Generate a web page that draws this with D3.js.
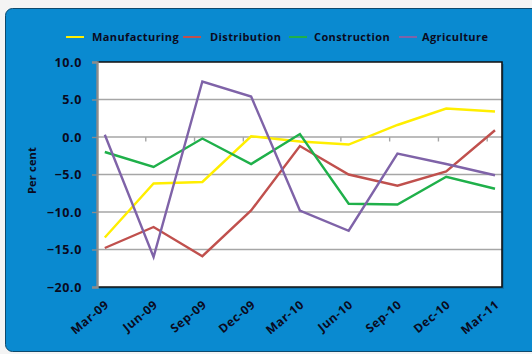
<!DOCTYPE html>
<html>
<head>
<meta charset="utf-8">
<script src="https://cdn.jsdelivr.net/npm/d3@7"></script>
<style>
  html, body { margin: 0; padding: 0; background: #f4f4f4; }
  svg { display: block; }
  text { font-family: "Open Sans", Lato, sans-serif; font-weight: bold; fill: #0a0a1e; }
</style>
</head>
<body>
<svg id="chart" width="532" height="354"></svg>
<script>
// Quarterly change, per cent
const quarters = ["Mar-09", "Jun-09", "Sep-09", "Dec-09", "Mar-10", "Jun-10", "Sep-10", "Dec-10", "Mar-11"];
const manufacturing = [-13.4, -6.2, -6.0, 0.1, -0.6, -1.0, 1.6, 3.8, 3.4];
const distribution  = [-14.8, -12.0, -15.9, -9.8, -1.2, -5.0, -6.5, -4.6, 0.9];
const construction  = [-2.0, -4.0, -0.2, -3.6, 0.4, -8.9, -9.0, -5.3, -6.9];
const agriculture   = [0.3, -16.0, 7.4, 5.4, -9.8, -12.5, -2.2, -3.6, -5.1];
const yTicks = [10, 5, 0, -5, -10, -15, -20];

const seriesNames = ["Manufacturing", "Distribution", "Construction", "Agriculture"];
const seriesValues = [manufacturing, distribution, construction, agriculture];
const seriesColors = ["#ffee00", "#c0504d", "#1fb04a", "#7f63a8"];

const svg = d3.select("#chart");

// Blue panel
svg.append("rect")
  .attr("x", 5.5).attr("y", 8.5)
  .attr("width", 540).attr("height", 343)
  .attr("rx", 7).attr("ry", 7)
  .attr("fill", "#0a8ad0")
  .attr("stroke", "#0d4a6e").attr("stroke-width", 1);

const plot = { left: 97, top: 62, right: 502, bottom: 287 };

const x = d3.scalePoint().domain(quarters).range([104.8, 495]);
const y = d3.scaleLinear().domain([-20, 10]).range([plot.bottom, plot.top]);

// Plot background with a faint drop shadow
svg.append("rect")
  .attr("x", plot.left + 2).attr("y", plot.top + 2)
  .attr("width", plot.right - plot.left).attr("height", plot.bottom - plot.top)
  .attr("fill", "#0a5f92").attr("opacity", 0.5);
svg.append("rect")
  .attr("x", plot.left).attr("y", plot.top)
  .attr("width", plot.right - plot.left).attr("height", plot.bottom - plot.top)
  .attr("fill", "#ffffff");

// Horizontal gridlines
svg.append("g")
  .selectAll("line")
  .data(yTicks.filter(v => v !== 10 && v !== -20))
  .join("line")
  .attr("x1", plot.left).attr("x2", plot.right)
  .attr("y1", d => y(d)).attr("y2", d => y(d))
  .attr("stroke", "#a6a6a6").attr("stroke-width", 1.6);

// Category tick marks hanging from the zero line
const step = x.step();
svg.append("g")
  .selectAll("line")
  .data(d3.range(1, quarters.length))
  .join("line")
  .attr("x1", i => plot.left + step * i).attr("x2", i => plot.left + step * i)
  .attr("y1", y(0)).attr("y2", y(0) + 4.5)
  .attr("stroke", "#a6a6a6").attr("stroke-width", 1.4);

// Plot frame: dark top/right/bottom
svg.append("path")
  .attr("d", `M${plot.left},${plot.top}H${plot.right}V${plot.bottom}H${plot.left}`)
  .attr("fill", "none").attr("stroke", "#111").attr("stroke-width", 1.6);

// Y axis
const yAxis = d3.axisLeft(y)
  .tickValues(yTicks)
  .tickSize(5)
  .tickPadding(10)
  .tickFormat(d3.format(".1f"));
const gy = svg.append("g")
  .attr("transform", `translate(${plot.left},0)`)
  .call(yAxis);
gy.select(".domain").attr("stroke", "#8c8c8c").attr("stroke-width", 2.4);
gy.selectAll(".tick line").attr("stroke", "#8c8c8c").attr("stroke-width", 1.4);
gy.selectAll(".tick text")
  .attr("font-size", 12.5)
  .attr("font-family", "\"Open Sans\", sans-serif")
  .attr("font-weight", "bold")
  .attr("letter-spacing", 0.6)
  .attr("fill", "#0a0a1e");

// Y axis title
svg.append("text")
  .attr("transform", `translate(36,${(plot.top + plot.bottom) / 2 - 4}) rotate(-90)`)
  .attr("text-anchor", "middle")
  .attr("font-size", 11)
  .attr("letter-spacing", 0.2)
  .text("Per cent");

// X axis labels, rotated
svg.append("g")
  .selectAll("text")
  .data(quarters)
  .join("text")
  .attr("transform", d => `translate(${x(d) + 5},${plot.bottom + 19}) rotate(-40)`)
  .attr("text-anchor", "end")
  .attr("font-size", 12)
  .attr("letter-spacing", 0.6)
  .text(d => d);

// Series lines
const line = d3.line()
  .x((d, i) => x(quarters[i]))
  .y(d => y(d));

svg.append("g")
  .selectAll("path")
  .data(seriesValues)
  .join("path")
  .attr("d", d => line(d))
  .attr("fill", "none")
  .attr("stroke", (d, i) => seriesColors[i])
  .attr("stroke-width", 2.4)
  .attr("stroke-linejoin", "miter");

// Legend
const legendItems = [
  { swatch: 66, text: 92 },
  { swatch: 183, text: 210 },
  { swatch: 289, text: 314 },
  { swatch: 399, text: 422 }
];
const legend = svg.append("g");
seriesNames.forEach((name, i) => {
  const pos = legendItems[i];
  legend.append("line")
    .attr("x1", pos.swatch).attr("x2", pos.swatch + 18)
    .attr("y1", 37).attr("y2", 37)
    .attr("stroke", seriesColors[i]).attr("stroke-width", 2);
  legend.append("text")
    .attr("x", pos.text).attr("y", 41)
    .attr("font-size", 11)
    .attr("letter-spacing", 0.4)
    .text(name);
});
</script>
</body>
</html>
